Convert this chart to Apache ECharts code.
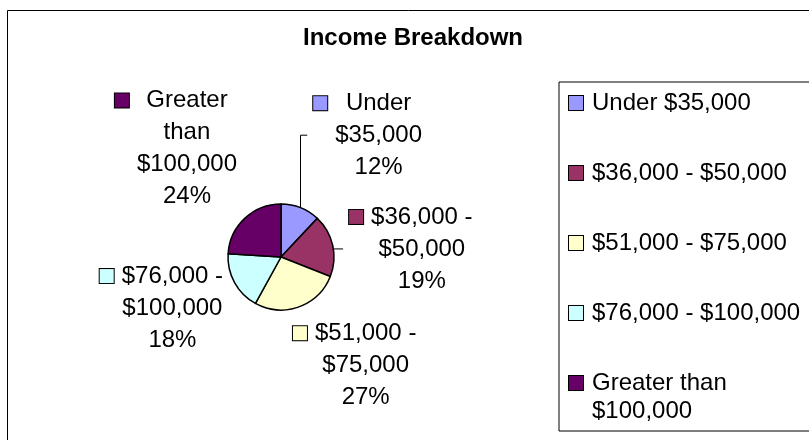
<!DOCTYPE html>
<html>
<head>
<meta charset="utf-8">
<title>Income Breakdown</title>
<script src="https://cdn.jsdelivr.net/npm/echarts@6/dist/echarts.min.js"></script>
<style>
  html, body { margin: 0; padding: 0; background: #fff; }
  #chart { width: 809px; height: 440px; }
</style>
</head>
<body>
<div id="chart"></div>
<script>
// income groups and their share of households (%)
const categories = ['Under $35,000', '$36,000 - $50,000', '$51,000 - $75,000', '$76,000 - $100,000', 'Greater than $100,000'];
const shares = [12, 19, 27, 18, 24];
const sliceColors = ['#9999FF', '#993366', '#FFFFCC', '#CCFFFF', '#660066'];

// label placement tweaks (Excel puts its labels close to the pie)
const leaderShown = [true, true, false, false, false];
const lineLen = [78, -16, 62, 53, 96];
const lineLen2 = [-21, 27, -32, -40, -63];

const FONT = '"Liberation Sans", Arial, sans-serif';

// "$36,000 - $50,000" -> ["$36,000 -", "$50,000"]
function splitName(name) {
  const out = [];
  name.split(' ').forEach(function (w) {
    if (w === '-' && out.length) out[out.length - 1] += ' -';
    else out.push(w);
  });
  return out;
}

function squareStyles(extra) {
  const rich = Object.assign({}, extra);
  sliceColors.forEach(function (c, i) {
    rich['sq' + i] = { width: 14, height: 14, backgroundColor: c, borderColor: '#000', borderWidth: 1, align: 'left' };
  });
  return rich;
}

const labelRich = squareStyles({
  g: { width: 8, align: 'left' },
  sp: { width: 22, align: 'left' },
  t: { align: 'center' }
});

const legendRich = squareStyles({
  g: { width: 9 },
  sp: { width: 23 }
});

const chart = echarts.init(document.getElementById('chart'));

const option = {
  backgroundColor: '#fff',
  animation: false,
  title: {
    text: 'Income Breakdown',
    left: 413,
    top: 26,
    padding: 0,
    textAlign: 'center',
    textStyle: { fontFamily: FONT, fontSize: 24, fontWeight: 'bold', color: '#000' }
  },
  graphic: [{
    type: 'rect',
    left: 5,
    top: 8,
    silent: true,
    z: -10,
    shape: { width: 900, height: 500 },
    style: { fill: 'none', stroke: '#000', lineWidth: 1 }
  }],
  legend: {
    orient: 'vertical',
    left: 559,
    top: 82,
    width: 400,
    height: 600,
    icon: 'none',
    itemWidth: 0,
    itemHeight: 28,
    itemGap: 42,
    padding: [7, 60, 6, 5],
    borderColor: '#000',
    borderWidth: 1,
    selectedMode: false,
    data: categories,
    formatter: function (name) {
      const i = categories.indexOf(name);
      let text = name;
      if (name.length > 18) {
        const cut = name.lastIndexOf(' ');
        text = name.slice(0, cut) + '\n{sp|}' + name.slice(cut + 1);
      }
      return '{sq' + i + '|}{g|}' + text;
    },
    textStyle: { fontFamily: FONT, fontSize: 24, color: '#000', lineHeight: 28, rich: legendRich }
  },
  series: [{
    name: 'Income Breakdown',
    type: 'pie',
    center: [281, 257],
    radius: 53,
    startAngle: 90,
    clockwise: true,
    avoidLabelOverlap: false,
    itemStyle: { borderColor: '#000', borderWidth: 1.5 },
    emphasis: { disabled: true },
    label: {
      position: 'outside',
      distanceToLabelLine: 5,
      fontFamily: FONT,
      fontSize: 24,
      lineHeight: 32,
      color: '#000',
      rich: labelRich,
      formatter: function (p) {
        const lines = splitName(p.name).concat([Math.round(p.percent) + '%']);
        return lines.map(function (s, k) {
          return (k === 0 ? '{sq' + p.dataIndex + '|}{g|}' : '{sp|}') + '{t|' + s + '}';
        }).join('\n');
      }
    },
    labelLine: {
      minTurnAngle: 0,
      smooth: false,
      lineStyle: { color: '#000', width: 1 }
    },
    // leader lines go straight up / across from the slice edge, then to the label
    labelLayout: function (p) {
      const pts = p.labelLinePoints;
      if (!pts || !leaderShown[p.dataIndex]) return {};
      const r = p.labelRect;
      const start = pts[0];
      const midY = r.y + r.height / 2;
      const onRight = r.x + r.width / 2 > start[0];
      const endX = onRight ? r.x - 5 : r.x + r.width + 5;
      return { labelLinePoints: [start, [start[0], midY], [endX, midY]] };
    },
    data: categories.map(function (name, i) {
      return {
        name: name,
        value: shares[i],
        itemStyle: { color: sliceColors[i] },
        labelLine: { show: leaderShown[i], length: lineLen[i], length2: lineLen2[i] }
      };
    })
  }]
};

chart.setOption(option);
</script>
</body>
</html>
